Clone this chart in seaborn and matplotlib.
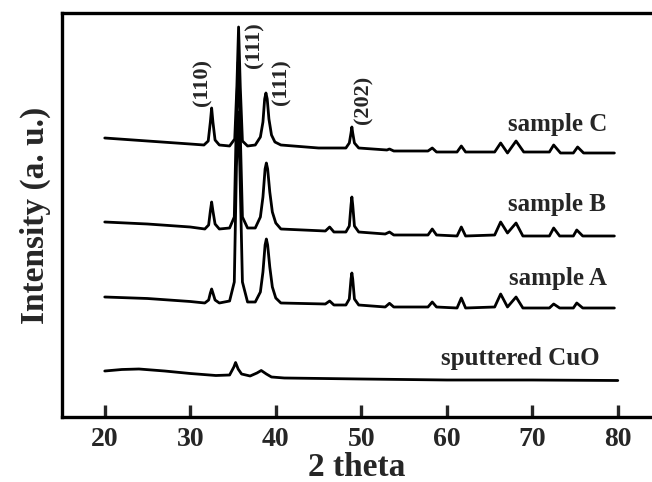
import matplotlib
matplotlib.use('Agg')
import matplotlib.pyplot as plt
import pandas as pd
import seaborn as sns

# XRD traces (2 theta, intensity in arbitrary units, already offset)
c_theta = [20, 25, 30, 31.6, 32.1, 32.35, 32.5, 32.65, 32.9, 33.4, 34.6, 35.2, 35.45, 35.65,
           35.85, 36.1, 36.7, 37.6, 38.2, 38.5, 38.7, 38.85, 39.0, 39.2, 39.5, 39.9, 40.6,
           45, 48.2, 48.6, 48.8, 48.9, 49.0, 49.2, 49.7, 53.0, 53.3, 53.8, 57.8, 58.3, 58.8,
           61.2, 61.7, 62.2, 65.6, 66.3, 67.1, 68.1, 69.0, 72.0, 72.5, 73.3, 74.8, 75.3,
           76.0, 79.6]
c_int = [279, 276, 273, 272, 276, 295, 309, 295, 277, 272, 271, 278, 330, 390,
         330, 276, 271, 272, 280, 295, 318, 324, 318, 298, 282, 275, 272,
         269, 269, 274, 284, 290, 284, 274, 269, 267, 268, 266, 266, 269, 265,
         265, 271, 265, 265, 274, 264, 276, 265, 265, 272, 264, 264, 270,
         264, 264]

# samples A and B share the same sampled 2 theta positions
ab_theta = [20, 25, 30, 31.7, 32.15, 32.35, 32.5, 32.65, 32.9, 33.4, 34.6, 35.15, 35.4, 35.6,
            35.8, 36.1, 36.7, 37.6, 38.2, 38.5, 38.75, 38.9, 39.05, 39.3, 39.6, 40.0, 40.6,
            45.8, 46.3, 46.8, 48.2, 48.6, 48.8, 48.9, 49.0, 49.2, 49.7, 52.8, 53.3, 53.8,
            57.8, 58.3, 58.8, 61.2, 61.7, 62.2, 65.6, 66.3, 67.1, 68.1, 68.9, 72.0, 72.5,
            73.2, 74.8, 75.2, 75.9, 79.6]
b_int = [195, 193, 190, 188, 192, 206, 215, 206, 193, 188, 189, 200, 300, 355,
         300, 200, 189, 189, 200, 220, 248, 254, 248, 225, 205, 194, 188,
         186, 190, 185, 185, 191, 212, 220, 212, 191, 185, 183, 185, 182,
         182, 188, 182, 181, 190, 181, 182, 195, 184, 194, 181, 181, 189,
         181, 181, 187, 181, 181]
a_int = [120, 118.5, 115.5, 114, 117, 124, 128, 124, 117, 114, 116, 135, 250, 305,
         250, 135, 115, 115, 125, 145, 172, 178, 172, 150, 130, 119, 114,
         113, 116, 112, 112, 118, 138, 144, 138, 118, 112, 110, 113.7, 110,
         110, 115, 110, 109, 119, 109, 110, 123, 110, 120, 109, 109, 113,
         109, 109, 114, 109, 109]

cuo_theta = [20, 22, 24, 27, 30, 33, 34.6, 35.1, 35.3, 35.6, 36.0, 37.0, 37.8, 38.3, 38.9,
             39.5, 41, 50, 60, 70, 80]
cuo_int = [46, 47.5, 48, 46, 43.5, 41.5, 42, 50, 54.5, 48, 43, 41, 44, 46.5, 43,
           40, 39, 38, 37, 37, 36.5]

sample_names = ['sample C', 'sample B', 'sample A', 'sputtered CuO']
name_x = [78.8, 78.6, 78.7, 77.9]
name_y = [292, 213, 138, 58]

peak_labels = ['(110)', '(111)', '(111)', '(202)']
peak_x = [31.4, 37.5, 40.7, 50.2]
peak_y = [334, 372, 335, 317]

x_ticks = [20, 30, 40, 50, 60, 70, 80]

sns.set_theme(style='ticks')
plt.rcParams['font.family'] = ['Liberation Serif', 'DejaVu Serif']
plt.rcParams['font.weight'] = 'bold'

fig = plt.figure(figsize=(6.52, 4.82), dpi=100)
ax = fig.add_axes([62 / 652, 65 / 482, 590 / 652, 404 / 482])

for th, inten in [(c_theta, c_int), (ab_theta, b_int), (ab_theta, a_int), (cuo_theta, cuo_int)]:
    df = pd.DataFrame({'theta': th, 'intensity': inten})
    sns.lineplot(data=df, x='theta', y='intensity', color='black', lw=2.0,
                 sort=False, estimator=None, ax=ax)

for name, x, y in zip(sample_names, name_x, name_y):
    ax.text(x, y, name, ha='right', va='center', fontsize=18, fontweight='bold')

for lab, x, y in zip(peak_labels, peak_x, peak_y):
    ax.text(x, y, lab, ha='center', va='center', rotation=90, fontsize=16, fontweight='bold')

ax.set_xlim(15, 84)
ax.set_ylim(0, 404)
ax.set_xticks(x_ticks)
ax.set_yticks([])
ax.tick_params(axis='x', direction='in', length=9, width=2.4, pad=7, labelsize=20)
for lab in ax.get_xticklabels():
    lab.set_fontweight('bold')
for side in ['left', 'bottom', 'top']:
    ax.spines[side].set_linewidth(2.4)
    ax.spines[side].set_color('black')
ax.spines['right'].set_visible(False)

ax.set_xlabel('2 theta', fontsize=24, fontweight='bold', labelpad=0)
ax.set_ylabel('Intensity (a. u.)', fontsize=24, fontweight='bold', labelpad=8)

fig.savefig('out.png', dpi=100)
